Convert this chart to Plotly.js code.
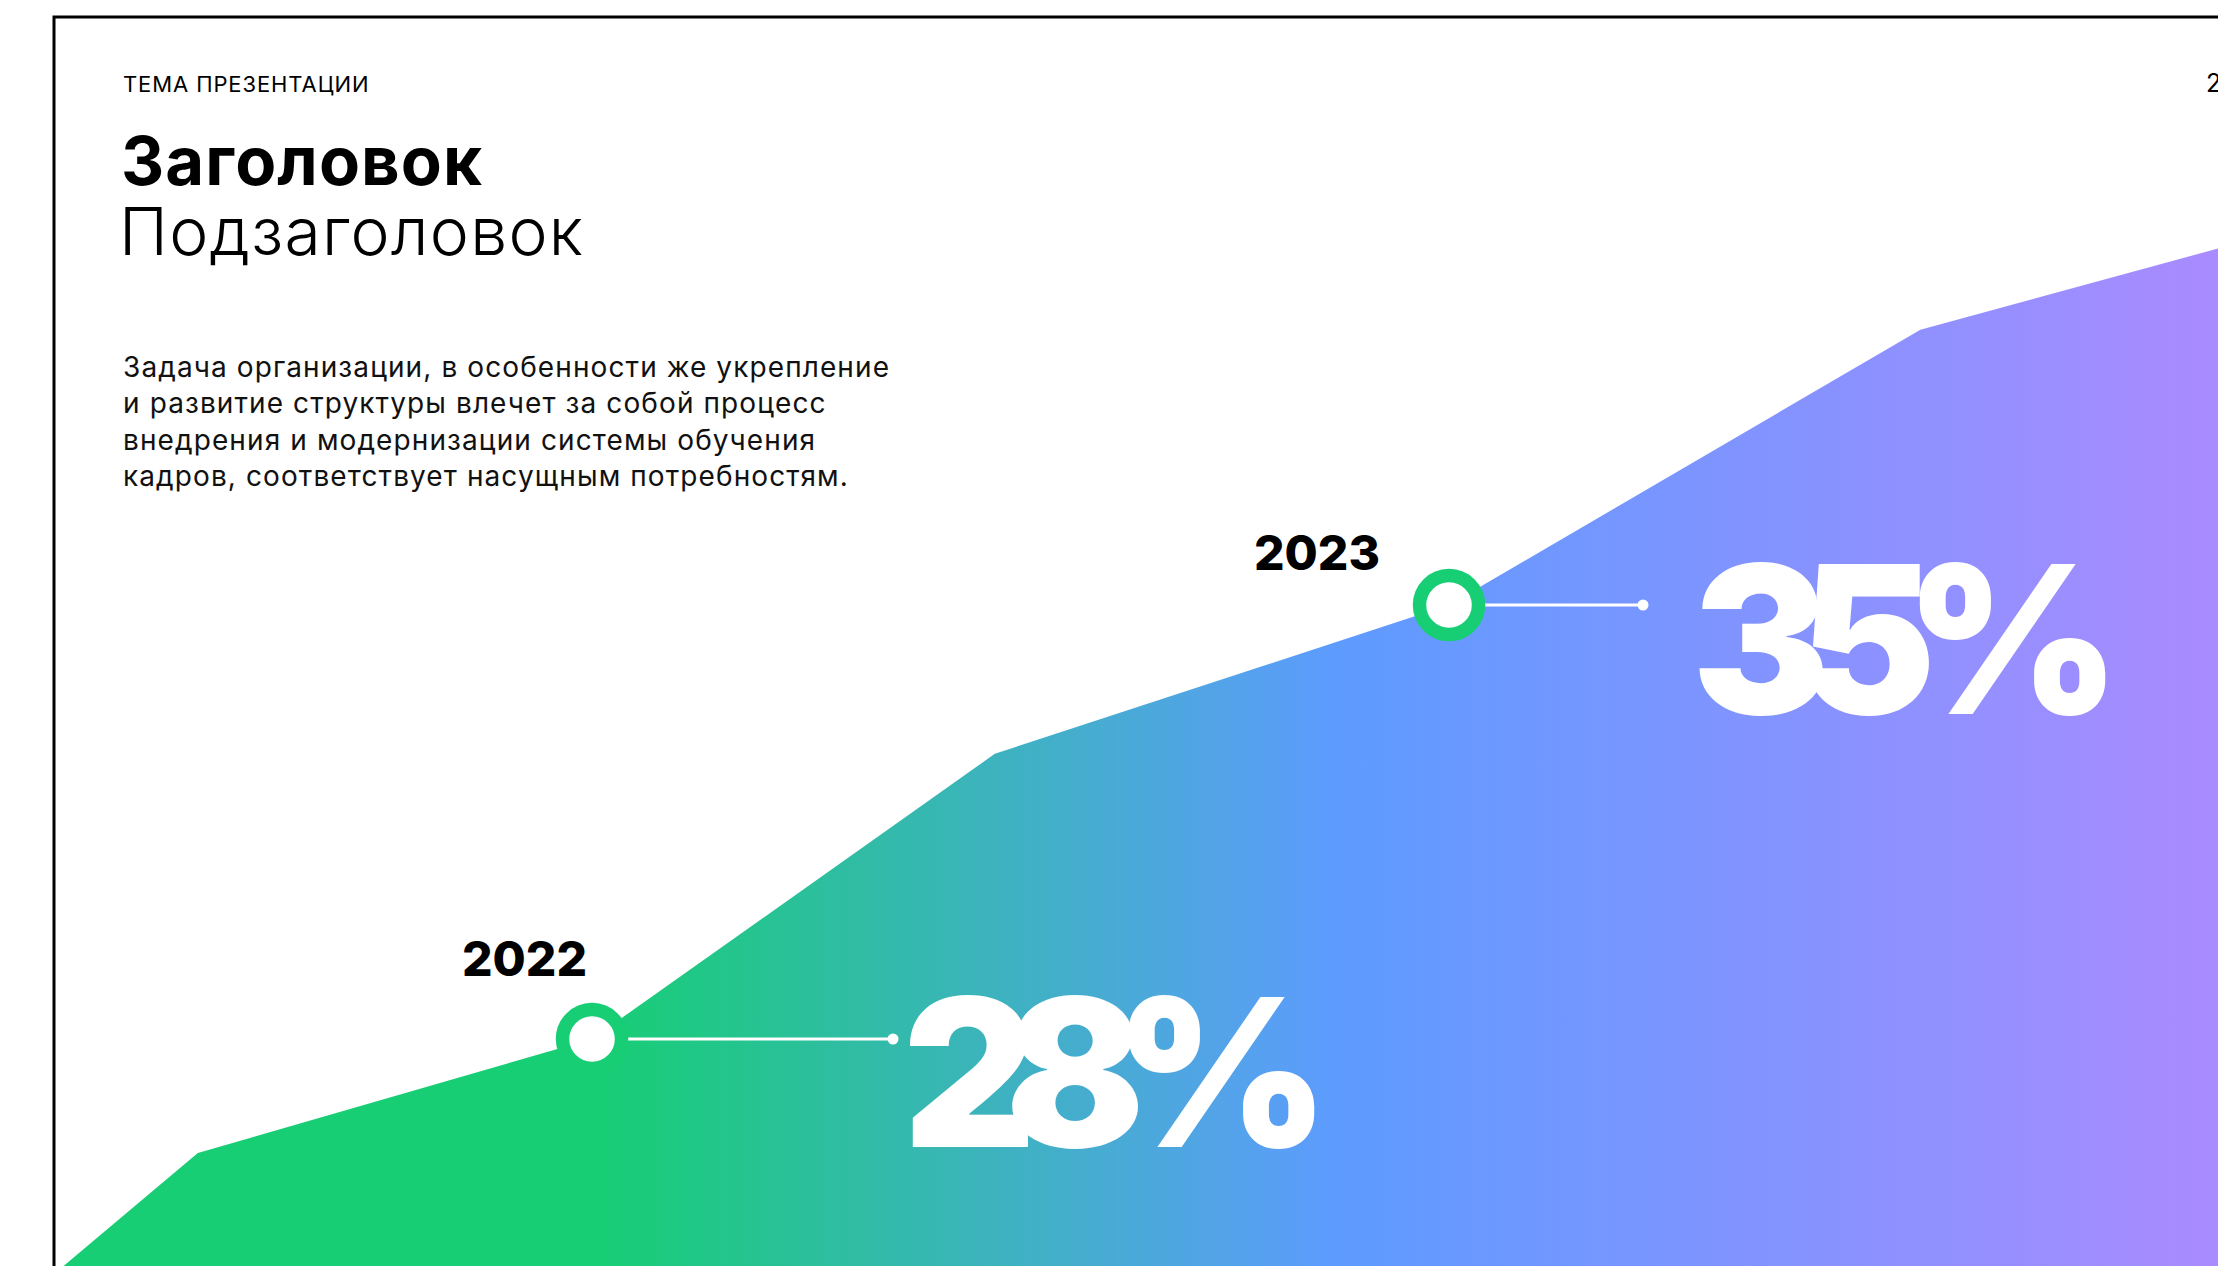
<!DOCTYPE html>
<html lang="ru">
<head>
<meta charset="utf-8">
<script src="https://cdn.plot.ly/plotly-3.0.1.min.js"></script>
<style>
  html, body { margin: 0; padding: 0; background: #ffffff; overflow: hidden; }
  #chart { width: 2218px; height: 1266px; }
  text.annotation-text[style*="font-size: 206px"] { letter-spacing: -31px; }
  text.annotation-text[style*="font-size: 28px"] { letter-spacing: 1.1px; }
  text.annotation-text[style*="font-size: 67px"] { letter-spacing: 1.1px; }
  text.annotation-text[style*="font-size: 66px"] { letter-spacing: 1.3px; }
  text.annotation-text[style*="font-size: 22px"] { letter-spacing: 0.9px; }
</style>
</head>
<body>
<div id="chart"></div>
<script>
// ---- Data ----
const areaYears  = [2021.38, 2021.54, 2022, 2022.47, 2023, 2023.55, 2023.9];
const areaValues = [24.3, 26.16, 28, 32.6, 35, 39.44, 40.76];

const milestoneYears  = [2022, 2023];
const milestoneValues = [28, 35];
const milestoneLabels = ["2022", "2023"];

const topicText    = "ТЕМА ПРЕЗЕНТАЦИИ";
const titleText    = "Заголовок";
const subtitleText = "Подзаголовок";
const bodyLines = [
  "Задача организации, в особенности же укрепление",
  "и развитие структуры влечет за собой процесс",
  "внедрения и модернизации системы обучения",
  "кадров, соответствует насущным потребностям."
];
const pageNumber = "2";

// ---- Layout / style ----
const W = 2218, H = 1266;
const FONT = "Inter, 'Noto Sans', sans-serif";
const GREEN = "#17CE74";
const xRange = [2021.3092, 2023.8973];
const yRange = [24.339, 44.758];
const pxPerYear = W / (xRange[1] - xRange[0]);
const connectorPx = [301, 194];       // connector length to the end dot
const bigLabelShift = [[309, -33], [241, -34]];
const yearLabelShift = [[-68, 81], [-132, 53]];

const traces = [];

// gradient area
traces.push({
  type: "scatter",
  x: areaYears,
  y: areaValues,
  mode: "lines",
  line: { width: 0 },
  fill: "tozeroy",
  fillgradient: {
    type: "horizontal",
    start: xRange[0] + 600 / pxPerYear,
    stop: xRange[1],
    colorscale: [[0, GREEN], [0.457, "#5E9BFF"], [1, "#A98BFF"]]
  },
  hoverinfo: "skip"
});

// connectors
milestoneYears.forEach((yr, i) => {
  const xEnd = yr + connectorPx[i] / pxPerYear;
  traces.push({
    type: "scatter",
    x: [yr, xEnd],
    y: [milestoneValues[i], milestoneValues[i]],
    mode: "lines",
    line: { color: "#ffffff", width: 3 },
    hoverinfo: "skip"
  });
  traces.push({
    type: "scatter",
    x: [xEnd],
    y: [milestoneValues[i]],
    mode: "markers",
    marker: { color: "#ffffff", size: 11, line: { width: 0 } },
    hoverinfo: "skip"
  });
});

// milestone rings
traces.push({
  type: "scatter",
  x: milestoneYears,
  y: milestoneValues,
  mode: "markers",
  marker: { color: "#ffffff", size: 59, line: { color: GREEN, width: 13.5 } },
  hoverinfo: "skip"
});

const annotations = [];
const paperY = py => 1 - py / H;
const paperX = px => px / W;

annotations.push({ xref: "paper", yref: "paper", x: paperX(121), y: paperY(83.5),
  xanchor: "left", yanchor: "middle", align: "left", showarrow: false, text: topicText,
  font: { family: FONT, size: 22, color: "#000000", weight: 400 } });
annotations.push({ xref: "paper", yref: "paper", x: paperX(119), y: paperY(161),
  xanchor: "left", yanchor: "middle", align: "left", showarrow: false, text: titleText,
  font: { family: FONT, size: 67, color: "#000000", weight: 700 } });
annotations.push({ xref: "paper", yref: "paper", x: paperX(117), y: paperY(231.5),
  xanchor: "left", yanchor: "middle", align: "left", showarrow: false, text: subtitleText,
  font: { family: FONT, size: 66, color: "#000000", weight: 300 } });
annotations.push({ xref: "paper", yref: "paper", x: paperX(121), y: paperY(421),
  xanchor: "left", yanchor: "middle", align: "left", showarrow: false,
  text: bodyLines.join("<br>"),
  font: { family: FONT, size: 28, color: "#111111", weight: 400 } });
annotations.push({ xref: "paper", yref: "paper", x: paperX(2204), y: paperY(83),
  xanchor: "left", yanchor: "middle", align: "left", showarrow: false, text: pageNumber,
  font: { family: FONT, size: 25, color: "#000000", weight: 400 } });

milestoneYears.forEach((yr, i) => {
  annotations.push({ x: yr, y: milestoneValues[i], xref: "x", yref: "y",
    xanchor: "center", yanchor: "middle", showarrow: false,
    xshift: yearLabelShift[i][0], yshift: yearLabelShift[i][1],
    text: milestoneLabels[i],
    font: { family: FONT, size: 48, color: "#000000", weight: 800 } });
  annotations.push({ x: yr, y: milestoneValues[i], xref: "x", yref: "y",
    xanchor: "left", yanchor: "middle", align: "left", showarrow: false,
    xshift: bigLabelShift[i][0], yshift: bigLabelShift[i][1],
    text: milestoneValues[i] + "%",
    font: { family: FONT, size: 206, color: "#ffffff", weight: 900 } });
});

const layout = {
  width: W, height: H,
  margin: { l: 0, r: 0, t: 0, b: 0, pad: 0 },
  paper_bgcolor: "#ffffff",
  plot_bgcolor: "#ffffff",
  showlegend: false,
  xaxis: { range: xRange, visible: false, fixedrange: true },
  yaxis: { range: yRange, visible: false, fixedrange: true },
  shapes: [{
    type: "rect", xref: "paper", yref: "paper",
    x0: paperX(54), x1: 1.05, y0: -0.05, y1: paperY(17),
    line: { color: "#000000", width: 3 }, fillcolor: "rgba(0,0,0,0)", layer: "above"
  }],
  annotations: annotations
};

Plotly.newPlot("chart", traces, layout, { staticPlot: true, displayModeBar: false });
</script>
</body>
</html>
